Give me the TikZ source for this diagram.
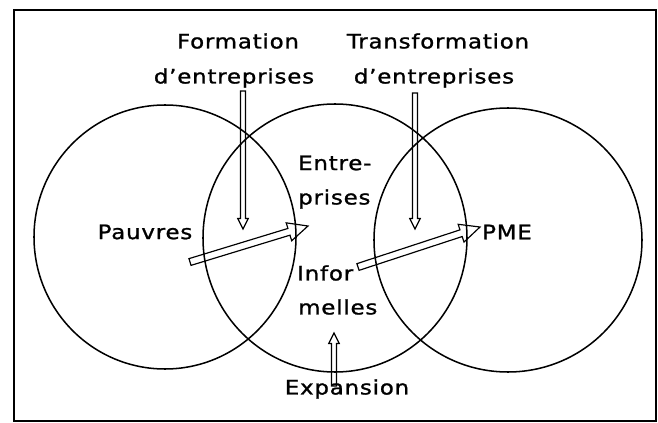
\documentclass[tikz,border=0pt]{standalone}
\usepackage{fontspec}
\setmainfont{DejaVu Sans}[FakeStretch=1.15,LetterSpace=4,FakeBold=1.2]
\usepackage{tikz}
\usetikzlibrary{calc}

% hollow arrow: tail, tip, half shaft, half head, head length
\newcommand{\hollowarrow}[5]{%
  \coordinate (hbase) at ($(#2)!#5!(#1)$);
  \draw[arrowline] ($(#1)!#3!90:(#2)$) -- ($(hbase)!#3!90:(#2)$)
    -- ($(hbase)!#4!90:(#2)$) -- (#2) -- ($(hbase)!#4!-90:(#2)$)
    -- ($(hbase)!#3!-90:(#2)$) -- ($(#1)!#3!-90:(#2)$) -- cycle;
}

\begin{document}
\begin{tikzpicture}[x=0.03cm,y=-0.03cm,
  lbl/.style={inner sep=0pt,font=\fontsize{17}{20}\selectfont},
  ring/.style={line width=1.3pt},
  arrowline/.style={line width=1pt,line join=miter}]
\useasboundingbox (0,0) rectangle (658,423);
\draw[line width=1.8pt] (14,10) rectangle (656,421);
% the three sets
\draw[ring] (165,237) ellipse [x radius=131,y radius=132];
\draw[ring] (335,238) ellipse [x radius=132,y radius=134];
\draw[ring] (508,240) ellipse [x radius=134,y radius=132];
% labels
\node[lbl] (form1) at (238,41) {Formation};
\node[lbl] (form2) at (234,78) {d'entreprises};
\node[lbl] (trans1) at (438,41) {Transformation};
\node[lbl] (trans2) at (434,78) {d'entreprises};
\node[lbl,anchor=west] (ent1) at (298,163) {Entre-};
\node[lbl,anchor=west] (ent2) at (298,199) {prises};
\node[lbl,anchor=west] (ent3) at (297,273) {Infor};
\node[lbl,anchor=west] (ent4) at (298,307) {melles};
\node[lbl] (pauvres) at (145,232) {Pauvres};
\node[lbl] (pme) at (507,232) {PME};
\node[lbl] (expan) at (347,389) {Expansion};
% arrows
\coordinate (fa) at (243,91);  \coordinate (fb) at (243,229);
\coordinate (ta) at (415,93);  \coordinate (tb) at (415,229);
\coordinate (ea) at (334,386); \coordinate (eb) at (334,333);
\coordinate (pa) at (190,262); \coordinate (pb) at (308,226);
\coordinate (ma) at (358,267); \coordinate (mb) at (480,227);
\hollowarrow{fa}{fb}{2.1pt}{4.5pt}{9pt}
\hollowarrow{ta}{tb}{2.1pt}{4.5pt}{9pt}
\hollowarrow{ea}{eb}{2.1pt}{4.5pt}{9pt}
\hollowarrow{pa}{pb}{3pt}{8pt}{17pt}
\hollowarrow{ma}{mb}{3pt}{8pt}{17pt}
\end{tikzpicture}
\end{document}
